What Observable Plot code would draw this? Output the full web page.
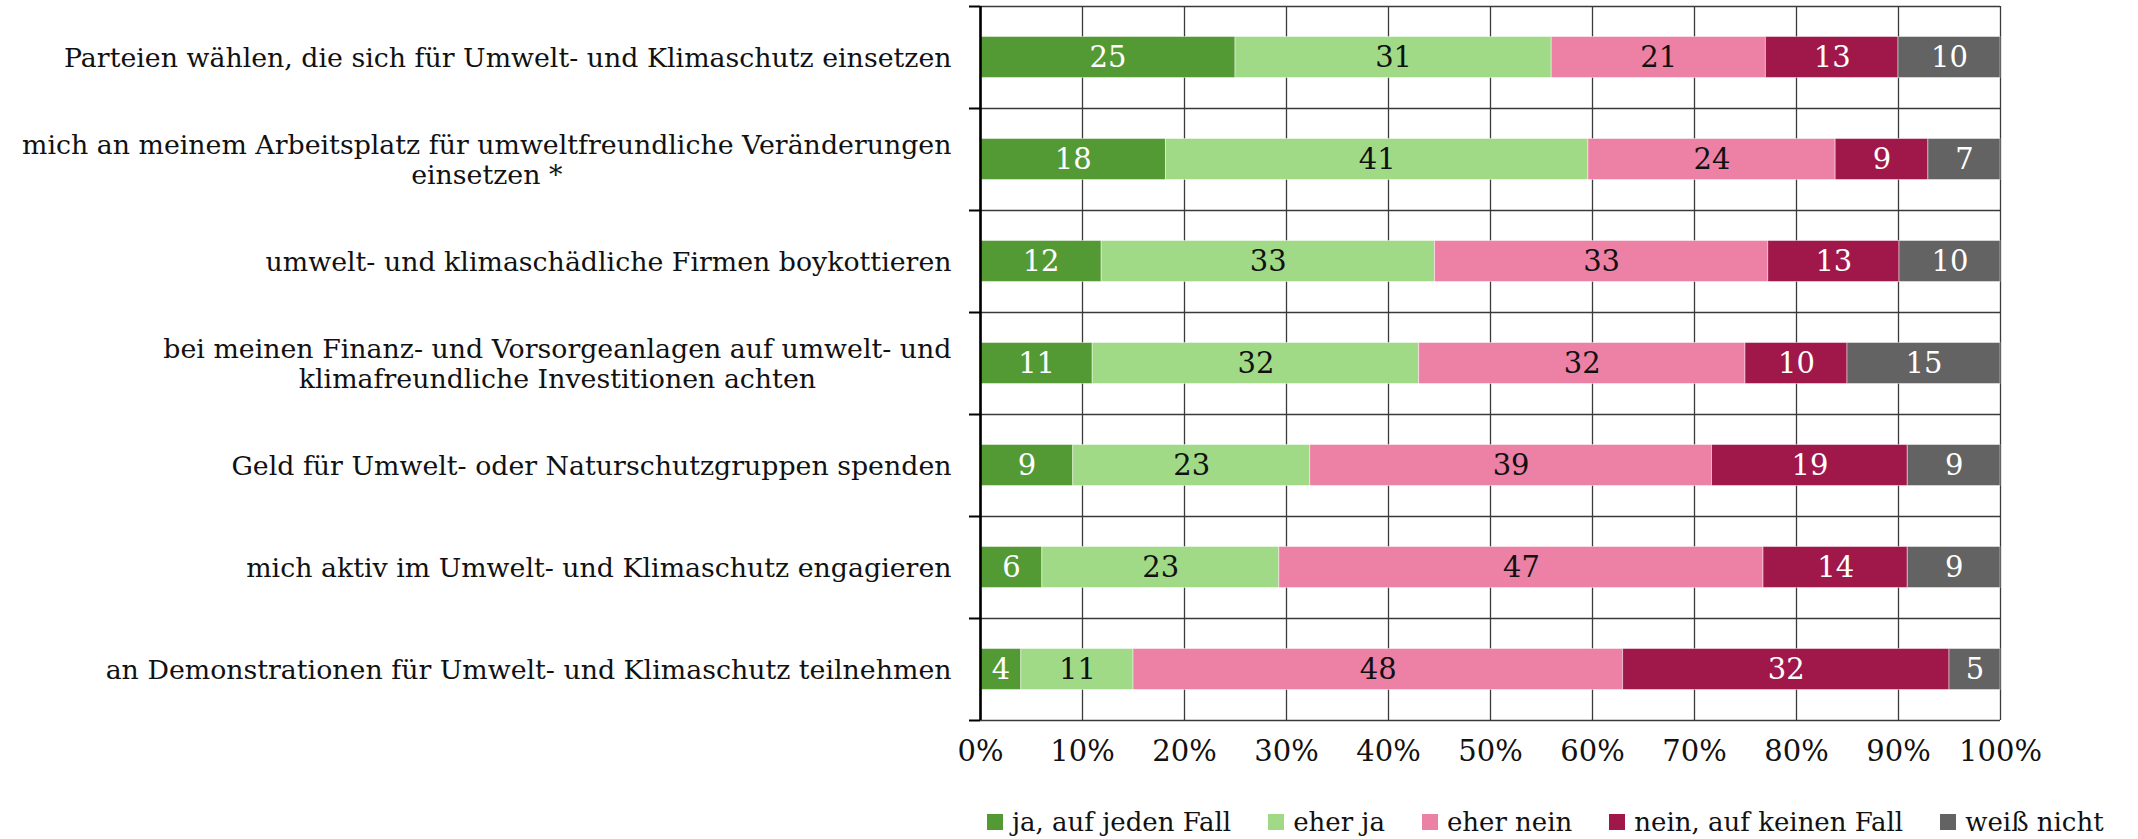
<!DOCTYPE html>
<html>
<head>
<meta charset="utf-8">
<script src="https://cdn.jsdelivr.net/npm/d3@7"></script>
<script src="https://cdn.jsdelivr.net/npm/@observablehq/plot@0.6"></script>
<style>
  html, body { margin: 0; padding: 0; background: #fff; }
  body { width: 2138px; height: 839px; overflow: hidden; font-family: "DejaVu Serif", serif; }
  #legend { display: flex; align-items: center; height: 44px; margin-left: 987px; font-size: 26px; color: #111; white-space: nowrap; }
  #legend .item { display: flex; align-items: center; margin-right: 37px; flex: 0 0 auto; }
  #legend .sw { width: 16px; height: 16px; margin-right: 9px; flex: 0 0 auto; }
</style>
</head>
<body>
<div id="chart"></div>
<div id="legend"></div>
<script>
// ---- data ----
const items = [
  "Parteien wählen, die sich für Umwelt- und Klimaschutz einsetzen",
  "mich an meinem Arbeitsplatz für umweltfreundliche Veränderungen\neinsetzen *",
  "umwelt- und klimaschädliche Firmen boykottieren",
  "bei meinen Finanz- und Vorsorgeanlagen auf umwelt- und\nklimafreundliche Investitionen achten",
  "Geld für Umwelt- oder Naturschutzgruppen spenden",
  "mich aktiv im Umwelt- und Klimaschutz engagieren",
  "an Demonstrationen für Umwelt- und Klimaschutz teilnehmen"
];
const categories = ["ja, auf jeden Fall", "eher ja", "eher nein", "nein, auf keinen Fall", "weiß nicht"];
const jaAufJedenFall    = [25, 18, 12, 11,  9,  6,  4];
const eherJa            = [31, 41, 33, 32, 23, 23, 11];
const eherNein          = [21, 24, 33, 32, 39, 47, 48];
const neinAufKeinenFall = [13,  9, 13, 10, 19, 14, 32];
const weissNicht        = [10,  7, 10, 15,  9,  9,  5];
const tickValues = [0, 10, 20, 30, 40, 50, 60, 70, 80, 90, 100];

// ---- styles ----
const colors = ["#549a34", "#a0da86", "#ed80a5", "#a0184a", "#636363"];
const textColors = ["#ffffff", "#111111", "#111111", "#ffffff", "#ffffff"];

// ---- build table (normalized stack) ----
const series = [jaAufJedenFall, eherJa, eherNein, neinAufKeinenFall, weissNicht];
const rows = [];
items.forEach((item, i) => {
  const total = d3.sum(series, s => s[i]);
  let cum = 0;
  series.forEach((s, k) => {
    const v = s[i];
    rows.push({item, i, k, category: categories[k], value: v,
      x1: cum / total * 100, x2: (cum + v) / total * 100});
    cum += v;
  });
});
const labelRows = items.map((item, i) => ({item, i}));
const boundaries = d3.range(0, items.length + 1);

const chart = Plot.plot({
  width: 2138,
  height: 800,
  marginLeft: 980,
  marginRight: 138,
  marginTop: 6,
  marginBottom: 80,
  style: {fontFamily: "DejaVu Serif, serif", fontSize: "29px", color: "#111", background: "#fff"},
  x: {domain: [0, 100], axis: null},
  y: {domain: [0, items.length], reverse: true, axis: null},
  color: {domain: categories, range: colors},
  marks: [
    Plot.gridY(boundaries, {stroke: "#3a3a3a", strokeOpacity: 1, strokeWidth: 1.3}),
    Plot.gridX(tickValues, {stroke: "#3a3a3a", strokeOpacity: 1, strokeWidth: 1.3}),
    Plot.rect(rows, {
      x1: "x1", x2: "x2",
      y1: d => d.i, y2: d => d.i + 1,
      fill: "category",
      insetTop: 30.5, insetBottom: 30.5,
      stroke: "#ffffff", strokeOpacity: 0.45, strokeWidth: 1
    }),
    Plot.text(rows, {
      x: d => (d.x1 + d.x2) / 2,
      y: d => d.i + 0.5,
      text: d => String(d.value),
      fill: d => textColors[d.k],
      fontSize: 29
    }),
    Plot.ruleX([0], {stroke: "#000", strokeWidth: 2.6}),
    Plot.axisY(boundaries, {anchor: "left", tickSize: 11, tickFormat: () => "", stroke: "#000", strokeWidth: 2}),
    Plot.text(labelRows, {
      y: d => d.i + 0.5,
      frameAnchor: "left",
      textAnchor: "end",
      dx: -29,
      text: "item",
      fontSize: 26.8,
      lineHeight: 1.1,
      fill: "#111"
    }),
    Plot.axisX(tickValues, {
      anchor: "bottom",
      tickSize: 0,
      tickPadding: 20,
      tickFormat: d => `${d}%`,
      fontSize: 29,
      fill: "#111"
    })
  ]
});
document.getElementById("chart").appendChild(chart);

// center multi-line y labels as a block (right edge stays at the axis gap)
chart.querySelectorAll("text").forEach(t => {
  const spans = t.querySelectorAll("tspan");
  if (spans.length < 2) return;
  const w = d3.max(Array.from(spans), s => s.getComputedTextLength());
  t.setAttribute("text-anchor", "middle");
  t.style.textAnchor = "middle";
  spans.forEach(s => {
    const x0 = parseFloat(s.getAttribute("x") || "0");
    s.setAttribute("x", String(x0 - w / 2));
  });
});

// legend
const legend = d3.select("#legend");
categories.forEach((c, k) => {
  const it = legend.append("div").attr("class", "item");
  it.append("div").attr("class", "sw").style("background", colors[k]);
  it.append("span").text(c);
});
</script>
</body>
</html>
